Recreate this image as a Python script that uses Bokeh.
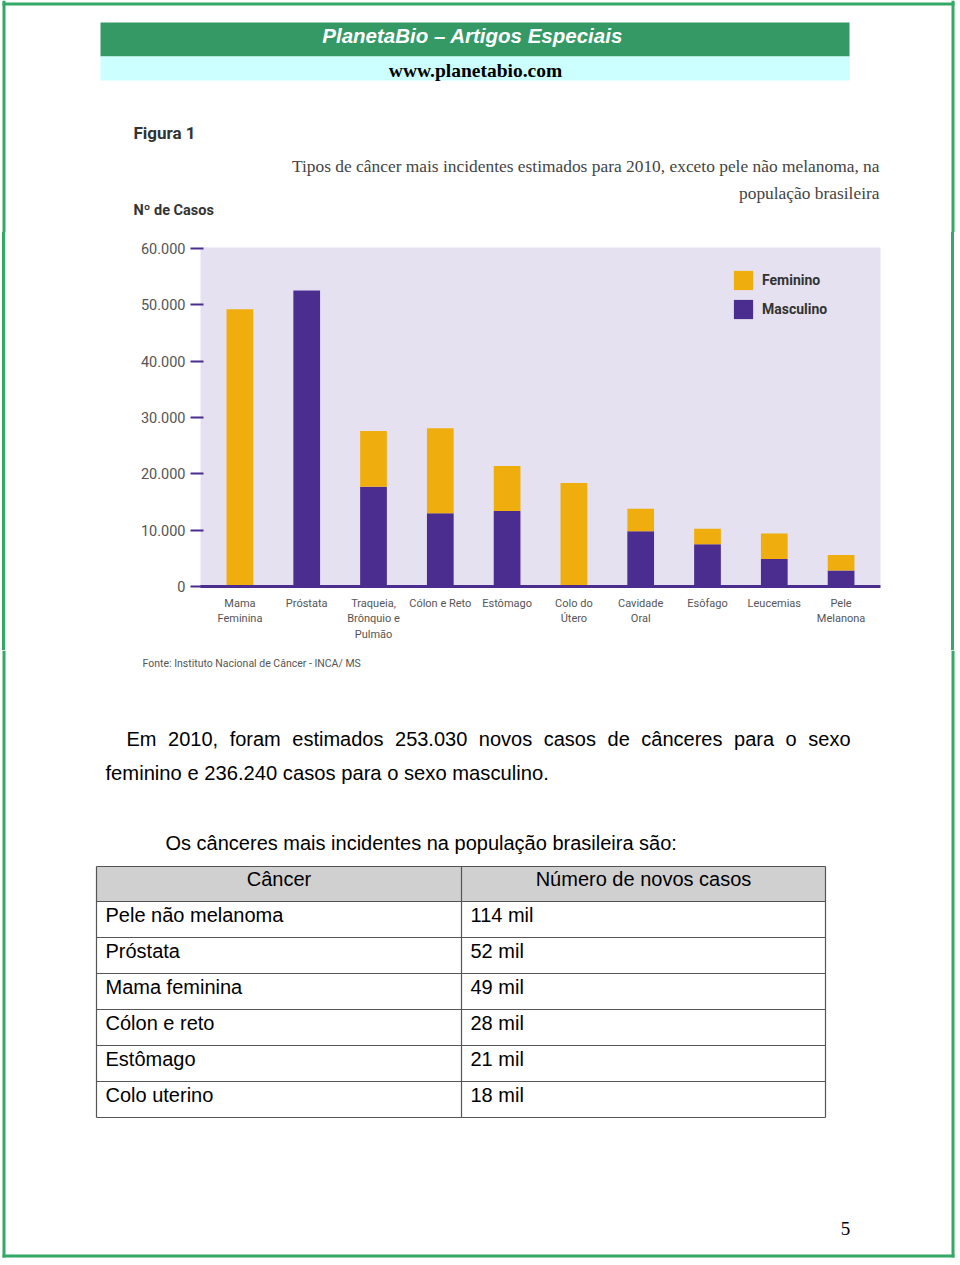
from bokeh.plotting import figure
from bokeh.models import Range1d, FactorRange, FixedTicker, Legend, LegendItem, ColumnDataSource
from bokeh.layouts import column, row
from bokeh.embed import file_html
from bokeh.resources import INLINE
from bokeh.core.properties import value

# ---------------- data ----------------
categories = ["Mama\nFeminina", "Próstata", "Traqueia,\nBrônquio e\nPulmão", "Cólon e Reto",
              "Estômago", "Colo do\nÚtero", "Cavidade\nOral", "Esôfago", "Leucemias", "Pele\nMelanona"]
masculino = [0, 52500, 17700, 13000, 13400, 0, 9800, 7500, 4900, 2850]
feminino = [49200, 0, 9900, 15100, 8000, 18350, 4000, 2750, 4500, 2750]
y_ticks = [0, 10000, 20000, 30000, 40000, 50000, 60000]
y_tick_labels = ["0", "10.000", "20.000", "30.000", "40.000", "50.000", "60.000"]
series_names = ["Feminino", "Masculino"]

header_title = "PlanetaBio –  Artigos Especiais"
header_url = "www.planetabio.com"
fig_label = "Figura 1"
chart_title_1 = "Tipos de câncer mais incidentes estimados para 2010, exceto pele não melanoma, na"
chart_title_2 = "população brasileira"
y_title = "Nº de Casos"
source_note = "Fonte: Instituto Nacional de Câncer - INCA/ MS"
body_line_1 = "Em 2010, foram estimados 253.030 novos casos de cânceres para o sexo"
body_line_2 = "feminino e 236.240 casos para o sexo masculino."
table_intro = "Os cânceres mais incidentes na população brasileira são:"
table_header = ["Câncer", "Número de novos casos"]
table_cancer = ["Pele não melanoma", "Próstata", "Mama feminina", "Cólon e reto", "Estômago", "Colo uterino"]
table_cases = ["114 mil", "52 mil", "49 mil", "28 mil", "21 mil", "18 mil"]
page_number = "5"

# ---------------- styles ----------------
PURPLE = "#4a2d8f"
YELLOW = "#f0ae0e"
LAVENDER = "#e5e1f0"
GREEN_BAND = "#359966"
CYAN_BAND = "#ccffff"
BORDER = "#33a965"
COND = "Roboto"
SANS = "Liberation Sans"
SERIF = "Liberation Serif"

W = 956
TOP_H = 232
CHART_H = 418
BOT_H = 1260 - TOP_H - CHART_H


def page_fig(width, height, x0, y0):
    f = figure(width=width, height=height, x_range=Range1d(x0, x0 + width),
               y_range=Range1d(y0 + height, y0), output_backend="svg",
               toolbar_location=None, min_border=0, title=None,
               x_axis_location=None, y_axis_location=None)
    f.xgrid.visible = False
    f.ygrid.visible = False
    f.outline_line_color = None
    f.background_fill_color = "white"
    f.border_fill_color = "white"
    return f


def vborders(f, y0, y1):
    f.segment(x0=[3.5, 952.5], y0=[y0, y0], x1=[3.5, 952.5], y1=[y1, y1],
              line_color=BORDER, line_width=3)


def txt(f, x, y, s, font, size, color="black", align="left", style="normal", baseline="middle"):
    f.text(x=[x], y=[y], text=[s], text_font=value(font), text_font_size=value(size),
           text_color=color, text_align=align, text_baseline=baseline, text_font_style=style)


# ---------------- top figure (page y 0..232) ----------------
top = page_fig(W, TOP_H, 0, 0)
vborders(top, 0, TOP_H)
top.segment(x0=[2], y0=[3.5], x1=[954], y1=[3.5], line_color=BORDER, line_width=3)
top.quad(left=[100], right=[849], top=[22], bottom=[56], fill_color=GREEN_BAND, line_color=None)
top.quad(left=[100], right=[849], top=[56], bottom=[80], fill_color=CYAN_BAND, line_color=None)
txt(top, 475, 35, header_title, SANS, "20.5px", "white", "center", "bold italic")
txt(top, 475, 70, header_url, SERIF, "19.5px", "black", "center", "bold")
txt(top, 133, 132, fig_label, COND, "17px", "#333333", "left", "bold")
txt(top, 879, 165, chart_title_1, SERIF, "17.4px", "#444444", "right")
txt(top, 879, 192, chart_title_2, SERIF, "17.4px", "#444444", "right")
txt(top, 133, 210, y_title, COND, "14.5px", "#333333", "left", "bold")

# ---------------- chart figure (page y 232..650) ----------------
grad = ("linear-gradient(to right, transparent 2px, %s 2px, %s 5px, transparent 5px, "
        "transparent 951px, %s 951px, %s 954px, transparent 954px)" % (BORDER, BORDER, BORDER, BORDER))
p = figure(width=W, height=CHART_H, title=None,
           x_range=FactorRange(factors=categories, range_padding=0.09, range_padding_units="absolute"),
           y_range=Range1d(0, 60150), output_backend="svg", toolbar_location=None,
           min_border_left=200, min_border_right=76, min_border_top=15, min_border_bottom=64,
           styles={"background": grad})
p.background_fill_color = LAVENDER
p.border_fill_color = None
p.outline_line_color = None
p.xgrid.visible = False
p.ygrid.visible = False

src = ColumnDataSource(dict(cat=categories, masc=masculino, fem=feminino))
rs = p.vbar_stack(["masc", "fem"], x="cat", width=0.4, color=[PURPLE, YELLOW],
                  line_color=None, source=src)

legend = Legend(items=[LegendItem(label=series_names[0], renderers=[rs[1]]),
                       LegendItem(label=series_names[1], renderers=[rs[0]])],
                location=(531, 265), glyph_width=24, glyph_height=24, label_height=24,
                spacing=5, padding=0, margin=0, label_standoff=7,
                border_line_color=None, background_fill_alpha=0,
                label_text_font=COND, label_text_font_size="14px",
                label_text_font_style="bold", label_text_color="#333333")
p.add_layout(legend)

p.yaxis.ticker = FixedTicker(ticks=y_ticks)
p.yaxis.major_label_overrides = {t: l for t, l in zip(y_ticks, y_tick_labels)}
p.yaxis.axis_line_color = None
p.yaxis.major_tick_line_color = PURPLE
p.yaxis.major_tick_line_width = 2
p.yaxis.major_tick_out = 10
p.yaxis.major_tick_in = 3
p.yaxis.minor_tick_line_color = None
p.yaxis.major_label_standoff = 5
p.yaxis.major_label_text_font = COND
p.yaxis.major_label_text_font_size = "14.5px"
p.yaxis.major_label_text_color = "#555555"

p.xaxis.axis_line_color = PURPLE
p.xaxis.axis_line_width = 3
p.xaxis.major_tick_line_color = None
p.xaxis.major_tick_out = 0
p.xaxis.major_tick_in = 0
p.xaxis.major_label_standoff = 10
p.xaxis.major_label_text_font = COND
p.xaxis.major_label_text_font_size = "11px"
p.xaxis.major_label_text_line_height = 1.2
p.xaxis.major_label_text_color = "#555555"

# ---------------- bottom figure (page y 650..1260) ----------------
Y0 = TOP_H + CHART_H
bot = page_fig(W, BOT_H, 0, Y0)
vborders(bot, Y0, 1257)
bot.segment(x0=[2], y0=[1255.5], x1=[954], y1=[1255.5], line_color=BORDER, line_width=3)

txt(bot, 142, 663, source_note, COND, "10.5px", "#555555")

# justified first line
ARIAL_W = {" ": 278, ",": 278, ".": 278, "E": 667, "m": 833, "f": 278, "o": 556, "r": 333,
           "a": 556, "e": 556, "s": 500, "t": 278, "i": 222, "d": 556, "n": 556, "v": 500,
           "c": 500, "â": 556, "p": 556, "x": 500}
FS = 20
words = body_line_1.split()
wid = [sum(ARIAL_W.get(ch, 556) for ch in w) * FS / 1000 for w in words]
x_start, x_end = 126, 850
gap = (x_end - x_start - sum(wid)) / (len(words) - 1)
xs = []
cx = x_start
for w_ in wid:
    xs.append(cx)
    cx += w_ + gap
bot.text(x=xs, y=[738] * len(words), text=words, text_font=value(SANS),
         text_font_size=value("20px"), text_color="black", text_align="left", text_baseline="middle")
txt(bot, 105, 772, body_line_2, SANS, "20.2px")
txt(bot, 165, 842, table_intro, SANS, "20px")

# table
tx0, tx1, tmid = 96, 825, 461
ty0, head_h, row_h = 866, 35, 36
nrows = len(table_cancer)
bounds = [ty0, ty0 + head_h] + [ty0 + head_h + row_h * (i + 1) for i in range(nrows)]
bot.quad(left=[tx0], right=[tx1], top=[bounds[0]], bottom=[bounds[1]], fill_color="#d0d0d0", line_color=None)
bot.segment(x0=[tx0] * len(bounds), x1=[tx1] * len(bounds), y0=bounds, y1=bounds,
            line_color="#555555", line_width=1.2)
bot.segment(x0=[tx0, tmid, tx1], x1=[tx0, tmid, tx1], y0=[bounds[0]] * 3, y1=[bounds[-1]] * 3,
            line_color="#555555", line_width=1.2)
bot.text(x=[(tx0 + tmid) / 2, (tmid + tx1) / 2], y=[bounds[0] + 12] * 2, text=table_header,
         text_font=value(SANS), text_font_size=value("20px"), text_align="center",
         text_baseline="middle", text_color="black")
row_y = [bounds[i + 1] + 13 for i in range(nrows)]
bot.text(x=[tx0 + 9] * nrows, y=row_y, text=table_cancer, text_font=value(SANS),
         text_font_size=value("20px"), text_align="left", text_baseline="middle", text_color="black")
bot.text(x=[tmid + 9] * nrows, y=row_y, text=table_cases, text_font=value(SANS),
         text_font_size=value("20px"), text_align="left", text_baseline="middle", text_color="black")

txt(bot, 845, 1228, page_number, SERIF, "19px", "black", "center")

layout = column(top, row(p), bot)
open("out.html", "w").write(file_html(layout, INLINE))
